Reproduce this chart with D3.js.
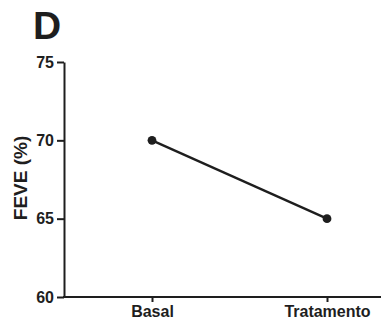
<!DOCTYPE html>
<html><head><meta charset="utf-8">
<script src="https://cdn.jsdelivr.net/npm/d3@7"></script>
<style>body{margin:0;background:#fff}svg{display:block}</style>
</head><body>
<svg id="c" width="385" height="320"></svg>
<script>
const categories = ["Basal", "Tratamento"];
const values = [70, 65];
const yTicks = [60, 65, 70, 75];
const yLabel = "FEVE (%)";
const panelLabel = "D";

const svg = d3.select("#c");
const ink = "#1e1e1e";
const font = "'Liberation Sans', Arial, sans-serif";

const y = d3.scaleLinear().domain([60, 75]).range([297, 62]);
const x = d3.scalePoint().domain(categories).range([152, 327]);
const axisLeftX = 64, axisRight = 381;

// Y axis
const gy = svg.append("g").attr("transform", `translate(${axisLeftX},0)`)
  .call(d3.axisLeft(y).tickValues(yTicks).tickSize(7).tickSizeOuter(0).tickPadding(3));
gy.select(".domain").attr("stroke", ink).attr("stroke-width", 2);
gy.selectAll(".tick line").attr("stroke", ink).attr("stroke-width", 2);
gy.selectAll(".tick text").attr("fill", ink).attr("font-family", font)
  .attr("font-weight", "bold").attr("font-size", 16);

// X axis
const gx = svg.append("g").attr("transform", `translate(0,${y(60)})`)
  .call(d3.axisBottom(x).tickSize(5).tickSizeOuter(0).tickPadding(4));
gx.select(".domain").remove();
gx.append("line").attr("x1", axisLeftX - 1).attr("x2", axisRight)
  .attr("stroke", ink).attr("stroke-width", 2);
gx.selectAll(".tick line").attr("stroke", ink).attr("stroke-width", 2);
gx.selectAll(".tick text").attr("fill", ink).attr("font-family", font)
  .attr("font-weight", "bold").attr("font-size", 16);

// line
const data = categories.map((c, i) => ({c, v: values[i]}));
svg.append("path").datum(data)
  .attr("d", d3.line().x(d => x(d.c)).y(d => y(d.v)))
  .attr("fill", "none").attr("stroke", ink).attr("stroke-width", 2.3);
svg.selectAll("circle.pt").data(data).enter().append("circle")
  .attr("class", "pt").attr("cx", d => x(d.c)).attr("cy", d => y(d.v))
  .attr("r", 4.4).attr("fill", ink);

// Y label
svg.append("text").attr("transform", "translate(27,178) rotate(-90)")
  .attr("text-anchor", "middle").attr("font-family", font)
  .attr("font-weight", "bold").attr("font-size", 19).attr("fill", ink)
  .text(yLabel);

// Panel label
svg.append("text").attr("x", 33).attr("y", 39)
  .attr("font-family", font).attr("font-weight", "bold")
  .attr("font-size", 39).attr("fill", ink).text(panelLabel);
</script>
</body></html>
